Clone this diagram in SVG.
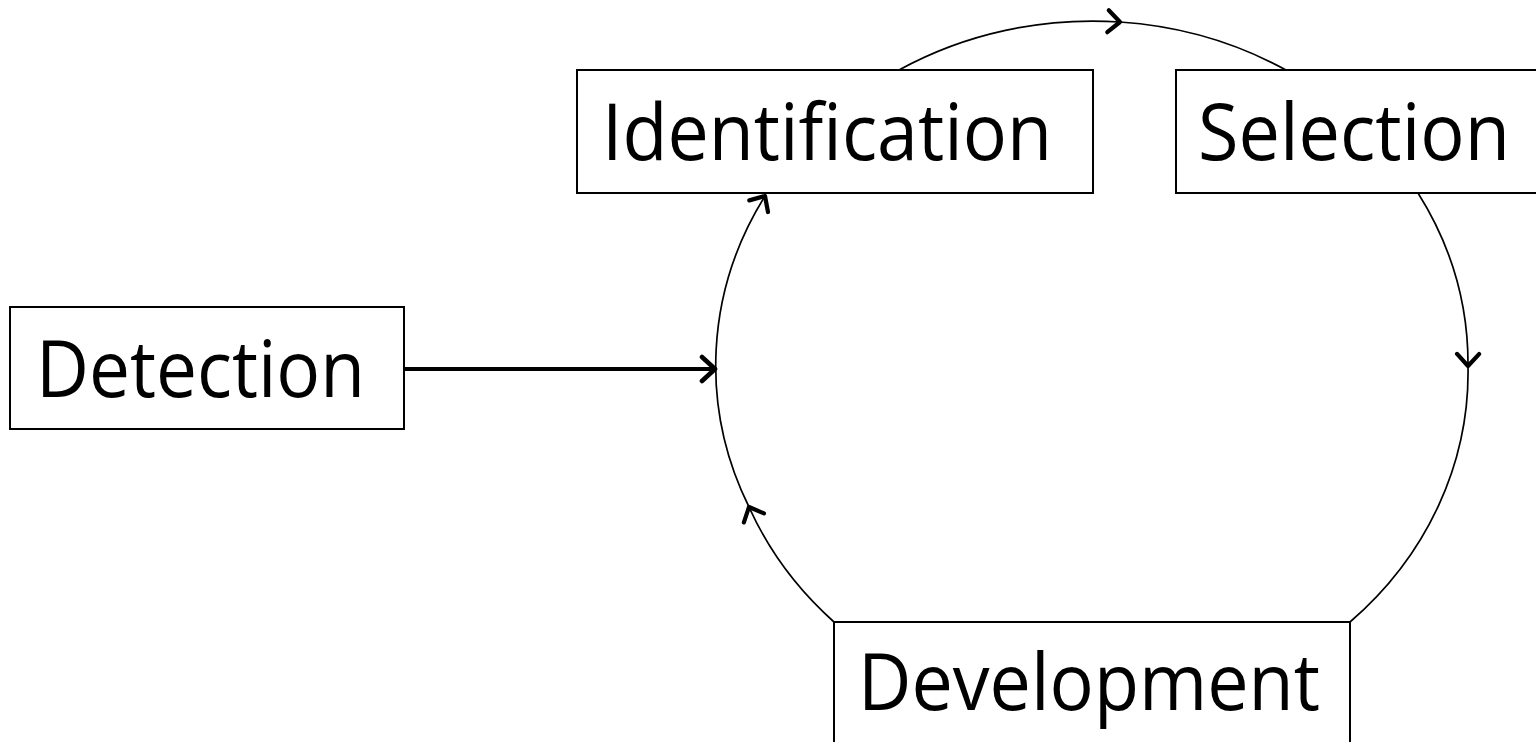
<svg xmlns="http://www.w3.org/2000/svg" width="1536" height="742" viewBox="0 0 1536 742">
<style>
.box{fill:#fff;stroke:#000;stroke-width:2}
.lbl{font-family:"Open Sans","Liberation Sans",sans-serif;font-size:79px;fill:#000}
.arc{fill:none;stroke:#000;stroke-width:1.7}
.main{fill:none;stroke:#000;stroke-width:4}
</style>
<defs>
<marker id="chev" viewBox="-3 -3 20 28" refX="12" refY="11" markerWidth="20" markerHeight="28" markerUnits="userSpaceOnUse" orient="auto">
<path d="M0,0 L12,11 L0,22" fill="none" stroke="#000" stroke-width="4.2" stroke-linecap="round" stroke-linejoin="round"/>
</marker>
<marker id="chevL" viewBox="-3 -3 21 30" refX="13" refY="12" markerWidth="21" markerHeight="30" markerUnits="userSpaceOnUse" orient="auto">
<path d="M0,0 L13,12 L0,24" fill="none" stroke="#000" stroke-width="4.6" stroke-linecap="round" stroke-linejoin="round"/>
</marker>
</defs>
<g id="connectors">
<path class="arc" d="M899 70 A375.5 343 0 0 1 1120 22" marker-end="url(#chev)"/>
<path class="arc" d="M1120 22 A375.5 343 0 0 1 1286 70"/>
<path class="arc" d="M1418 193 A375.5 343 0 0 1 1468 366" marker-end="url(#chev)"/>
<path class="arc" d="M1468 366 A375.5 343 0 0 1 1350 622"/>
<path class="arc" d="M834 622 A375.5 343 0 0 1 749 507" marker-end="url(#chev)"/>
<path class="arc" d="M749 507 A375.5 343 0 0 1 765 196" marker-end="url(#chev)"/>
<line class="main" x1="404" y1="369" x2="715" y2="369" marker-end="url(#chevL)"/>
</g>
<g id="node-identification">
<rect class="box" x="577" y="70" width="516" height="123"/>
<text class="lbl" x="602" y="160" textLength="450" lengthAdjust="spacingAndGlyphs">Identification</text>
</g>
<g id="node-selection">
<rect class="box" x="1176" y="70" width="380" height="123"/>
<text class="lbl" x="1198" y="160" textLength="312" lengthAdjust="spacingAndGlyphs">Selection</text>
</g>
<g id="node-detection">
<rect class="box" x="10" y="307" width="394" height="122"/>
<text class="lbl" x="36" y="397" textLength="329" lengthAdjust="spacingAndGlyphs">Detection</text>
</g>
<g id="node-development">
<rect class="box" x="834" y="622" width="516" height="140"/>
<text class="lbl" x="858" y="710" textLength="462" lengthAdjust="spacingAndGlyphs">Development</text>
</g>
</svg>
